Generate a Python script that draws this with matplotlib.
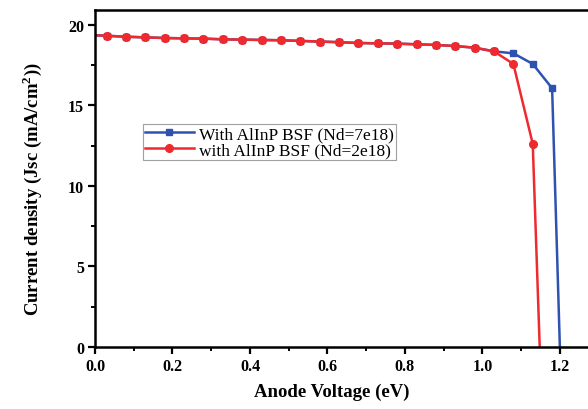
import matplotlib

matplotlib.use("Agg")
import matplotlib.pyplot as plt
from matplotlib.ticker import MultipleLocator

# Jsc-V кривые, значения
v_red = [0.0, 0.03, 0.08, 0.13, 0.18, 0.23, 0.28, 0.33, 0.38, 0.43, 0.48, 0.53, 0.58,
         0.63, 0.68, 0.73, 0.78, 0.83, 0.88, 0.93, 0.98, 1.03, 1.08, 1.13, 1.148]
j_red = [19.36, 19.33, 19.27, 19.23, 19.19, 19.17, 19.15, 19.11, 19.09, 19.07, 19.05, 19.01, 18.97,
         18.93, 18.88, 18.86, 18.84, 18.80, 18.76, 18.69, 18.59, 18.36, 17.58, 12.62, 0.0]

v_blue = [0.0, 0.03, 0.08, 0.13, 0.18, 0.23, 0.28, 0.33, 0.38, 0.43, 0.48, 0.53, 0.58,
          0.63, 0.68, 0.73, 0.78, 0.83, 0.88, 0.93, 0.98, 1.03, 1.08, 1.13, 1.18, 1.20]
j_blue = [19.36, 19.33, 19.27, 19.23, 19.19, 19.17, 19.15, 19.11, 19.09, 19.07, 19.05, 19.01, 18.97,
          18.93, 18.88, 18.86, 18.84, 18.80, 18.76, 18.69, 18.59, 18.36, 18.24, 17.58, 16.07, 0.0]

label_blue = "With AlInP BSF (Nd=7e18)"
label_red = "with AlInP BSF (Nd=2e18)"

plt.rcParams["font.family"] = ["Liberation Serif", "DejaVu Serif"]
plt.rcParams["mathtext.fontset"] = "custom"
plt.rcParams["mathtext.rm"] = "Liberation Serif"
plt.rcParams["mathtext.bf"] = "Liberation Serif:bold"

fig = plt.figure(figsize=(5.88, 4.10), dpi=100)
ax = fig.add_axes([95 / 588, 62 / 410, 1.02 - 95 / 588, 337 / 410])

ax.plot(v_blue, j_blue, color="#2f52b0", lw=1.8, marker="s", ms=5,
        markevery=list(range(1, len(v_blue) - 1)), label=label_blue)
ax.plot(v_red, j_red, color="#ee2a2f", lw=1.8, marker="o", ms=5.5,
        markevery=list(range(1, len(v_red) - 1)), label=label_red)

ax.set_xlim(0, 1.303)
ax.set_ylim(0, 20.93)
ax.xaxis.set_major_locator(MultipleLocator(0.2))
ax.xaxis.set_minor_locator(MultipleLocator(0.1))
ax.yaxis.set_major_locator(MultipleLocator(5))
ax.yaxis.set_minor_locator(MultipleLocator(2.5))
ax.xaxis.set_major_formatter(plt.FormatStrFormatter("%.1f"))

for s in ax.spines.values():
    s.set_linewidth(1.8)
ax.tick_params(which="major", direction="out", length=5, width=1.6, labelsize=11.5, pad=3)
ax.tick_params(which="minor", direction="out", length=3, width=1.4)
for t in ax.get_xticklabels() + ax.get_yticklabels():
    t.set_fontweight("bold")

ax.set_xlabel("Anode Voltage (eV)", fontsize=13.5, fontweight="bold")
ax.set_ylabel("Current density (Jsc (mA/cm$^{\\mathbf{2}}$))", fontsize=13.5,
              fontweight="bold")
ax.xaxis.set_label_coords((332 - 95) / (1.02 * 588 - 95), -0.105)
ax.yaxis.set_label_coords(-0.102, 0.47)

leg = ax.legend(loc="upper left", bbox_to_anchor=(0.095, 0.662), fontsize=12.5,
                frameon=True, fancybox=False, handlelength=2.8, borderpad=0.12,
                labelspacing=0.0, handletextpad=0.3, borderaxespad=0)
leg.get_frame().set_edgecolor("#888888")
leg.get_frame().set_linewidth(0.8)

fig.savefig("out.png", dpi=100)
